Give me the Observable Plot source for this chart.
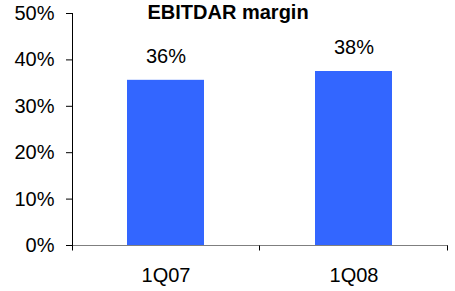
<!DOCTYPE html>
<html><head><meta charset="utf-8">
<script src="https://cdn.jsdelivr.net/npm/d3@7"></script>
<script src="https://cdn.jsdelivr.net/npm/@observablehq/plot@0.6"></script>
<style>
html,body{margin:0;padding:0;background:#fff;}
#chart svg{display:block;}
</style></head><body><div id="chart"></div>
<script>
const categories = ["1Q07", "1Q08"];
const margins = [0.356, 0.375];
const valueLabels = ["36%", "38%"];
const yTicks = [0, 0.1, 0.2, 0.3, 0.4, 0.5];
const title = "EBITDAR margin";

const data = categories.map((c, i) => ({quarter: c, margin: margins[i], label: valueLabels[i]}));

const axisLines = (index, scales, values, dims) => {
  const {width, height, marginTop, marginRight, marginBottom, marginLeft} = dims;
  const g = d3.create("svg:g");
  const x0 = marginLeft + 0.5, x1 = width - marginRight, yb = height - marginBottom + 0.5;
  const n = categories.length;
  const step = (x1 - x0) / n;
  g.append("line").attr("x1", x0).attr("x2", x1).attr("y1", yb).attr("y2", yb)
    .attr("stroke", "#7f7f7f");
  g.append("line").attr("x1", x0).attr("x2", x0).attr("y1", marginTop).attr("y2", yb + 5)
    .attr("stroke", "#000");
  for (let i = 1; i <= n; i++) {
    const xx = Math.round(x0 + i * step) - 0.5;
    g.append("line").attr("x1", xx).attr("x2", xx).attr("y1", yb).attr("y2", yb + 5)
      .attr("stroke", "#000");
  }
  return g.node();
};

const chart = Plot.plot({
  width: 455,
  height: 291,
  marginLeft: 72,
  marginRight: 7,
  marginTop: 13,
  marginBottom: 46,
  style: {fontFamily: "'Liberation Sans', Arial, sans-serif", fontSize: "20px", color: "#000", background: "#fff"},
  x: {domain: categories, paddingInner: 0.59, paddingOuter: 0.295, label: null},
  y: {domain: [0, 0.5], label: null},
  marks: [
    Plot.barY(data, {x: "quarter", y: "margin", fill: "#3366FF"}),
    axisLines,
    Plot.axisY({ticks: yTicks, tickFormat: d3.format(".0%"), tickSize: 6, tickPadding: 12, label: null, fontSize: 20}),
    Plot.axisX({tickSize: 0, tickPadding: 22, label: null, fontSize: 20}),
    Plot.text(data, {x: "quarter", y: "margin", text: "label", dy: -23.5, fontSize: 20, fill: "#000"}),
    Plot.text([title], {frameAnchor: "top-left", textAnchor: "start", lineAnchor: "middle", dx: 75, dy: -0.5, fontSize: 20, fontWeight: "bold", fill: "#000"})
  ]
});
document.getElementById("chart").appendChild(chart);
</script>
</body></html>
